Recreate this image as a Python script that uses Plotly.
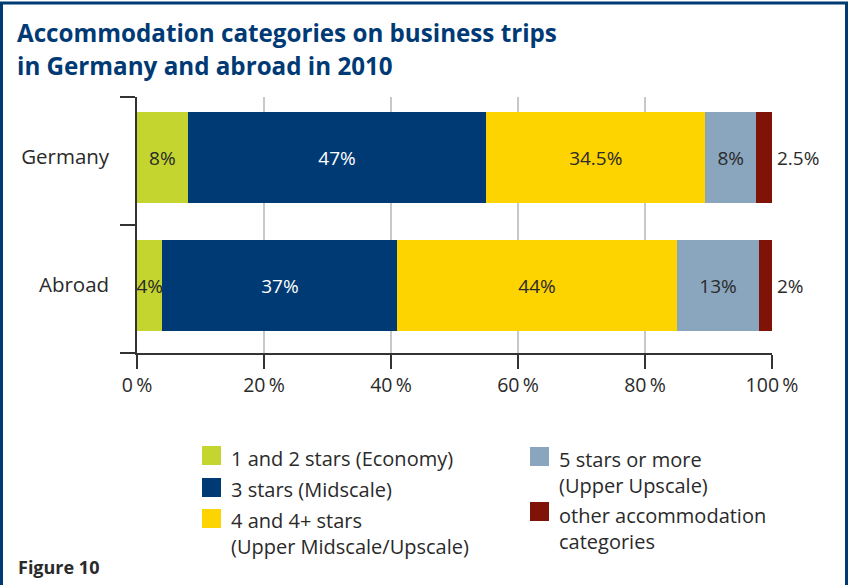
import plotly.graph_objects as go

# Data: share of overnight stays by accommodation category (%)
regions = ["Abroad", "Germany"]
categories = [
    "1 and 2 stars (Economy)",
    "3 stars (Midscale)",
    "4 and 4+ stars<br>(Upper Midscale/Upscale)",
    "5 stars or more<br>(Upper Upscale)",
    "other accommodation<br>categories",
]
economy = [4, 8]
midscale = [37, 47]
upper_midscale = [44, 34.5]
upper_upscale = [13, 8]
other = [2, 2.5]
series = [economy, midscale, upper_midscale, upper_upscale, other]

colors = ["#C3D52E", "#003A75", "#FDD300", "#8AA5BE", "#7F1308"]
text_colors = ["#2a2a2a", "#ffffff", "#2a2a2a", "#2a2a2a", "#2a2a2a"]
x_ticks = [0, 20, 40, 60, 80, 100]
x_tick_labels = ["0\u2009%", "20\u2009%", "40\u2009%", "60\u2009%", "80\u2009%", "100\u2009%"]

W, H = 849, 585
L, R, T, B = 137, 77, 97, 232
PW, PH = W - L - R, H - T - B
FONT = "Open Sans"
DARK = "#2a2a2a"
BLUE = "#003A75"
BAR_W = 0.71
LEG_SIZE = 20


def fx(px):
    return (px - L) / PW


def fy(py):
    return (H - B - py) / PH


def fmt(v):
    return f"{v:g}%"


fig = go.Figure()
for i, (name, vals) in enumerate(zip(categories, series)):
    last = i == len(series) - 1
    fig.add_trace(go.Bar(
        y=regions,
        x=vals,
        orientation="h",
        name=name,
        width=BAR_W,
        offset=-BAR_W / 2 + 0.027,
        marker=dict(color=colors[i], line=dict(width=0)),
        text=None if last else [fmt(v) for v in vals],
        textposition="none" if last else "inside",
        insidetextanchor="middle",
        textangle=0,
        constraintext="none",
        textfont=dict(family=FONT, size=19, color=text_colors[i]),
        showlegend=False,
        hoverinfo="skip",
    ))

# values of the last segment sit just right of the bar end
for reg, v in zip(regions, other):
    fig.add_annotation(x=100, y=reg, xref="x", yref="y", text=fmt(v),
                       xanchor="left", xshift=3, yshift=3, showarrow=False,
                       font=dict(family=FONT, size=19, color=DARK))

shapes = []
annotations = []

# legend, two columns: (square x, square top, centre of first text line)
legend_pos = [
    (202, 446, 457),
    (202, 478, 488),
    (202, 509, 519),
    (530, 447, 458),
    (530, 502, 514),
]
for (lx, ly, cy), name, c in zip(legend_pos, categories, colors):
    shapes.append(dict(type="rect", xref="paper", yref="paper",
                       x0=fx(lx), x1=fx(lx + 19), y0=fy(ly), y1=fy(ly + 19),
                       fillcolor=c, line=dict(width=0)))
    annotations.append(dict(xref="paper", yref="paper", x=fx(lx + 27),
                            y=fy(cy - LEG_SIZE * 0.65 - 1),
                            xanchor="left", yanchor="top", align="left",
                            text=name, showarrow=False,
                            font=dict(family=FONT, size=LEG_SIZE, color=DARK)))

# title lines
annotations.append(dict(xref="paper", yref="paper", x=fx(15), y=fy(32),
                        xanchor="left", yanchor="middle", showarrow=False,
                        text="<b>Accommodation categories on business trips</b>",
                        font=dict(family=FONT, size=24.2, color=BLUE)))
annotations.append(dict(xref="paper", yref="paper", x=fx(15), y=fy(65),
                        xanchor="left", yanchor="middle", showarrow=False,
                        text="<b>in Germany and abroad in 2010</b>",
                        font=dict(family=FONT, size=24.2, color=BLUE)))
annotations.append(dict(xref="paper", yref="paper", x=fx(16), y=fy(567),
                        xanchor="left", yanchor="middle", showarrow=False,
                        text="<b>Figure 10</b>",
                        font=dict(family=FONT, size=18, color=DARK)))

# frame
shapes.append(dict(type="rect", xref="paper", yref="paper",
                   x0=fx(1.5), x1=fx(W - 2.5), y0=fy(H + 10), y1=fy(3),
                   line=dict(color=BLUE, width=3), fillcolor="rgba(0,0,0,0)",
                   layer="above"))

for a in annotations:
    fig.add_annotation(**a)

fig.update_layout(
    width=W, height=H,
    margin=dict(l=L, r=R, t=T, b=B, pad=0),
    barmode="stack",
    plot_bgcolor="white",
    paper_bgcolor="white",
    shapes=shapes,
    font=dict(family=FONT, color=DARK),
    xaxis=dict(
        range=[0, 100], tickvals=x_ticks, ticktext=x_tick_labels,
        showgrid=True, gridcolor="#c8c8c8", gridwidth=1.5,
        showline=True, linecolor="#333333", linewidth=1.5,
        ticks="outside", ticklen=14, tickcolor="#333333", tickwidth=1.5,
        tickfont=dict(family=FONT, size=19.5, color=DARK),
        zeroline=False, fixedrange=True,
    ),
    yaxis=dict(
        categoryorder="array", categoryarray=regions,
        range=[-0.5, 1.5],
        showline=True, linecolor="#333333", linewidth=1.5,
        ticks="outside", ticklen=15, tickcolor="#333333", tickwidth=1.5,
        tickson="boundaries", ticklabelstandoff=22, ticklabelshift=-4,
        tickfont=dict(family=FONT, size=20.5, color=DARK),
        showgrid=False, zeroline=False, fixedrange=True,
    ),
)

fig.write_html("out.html", config={"displayModeBar": False})
